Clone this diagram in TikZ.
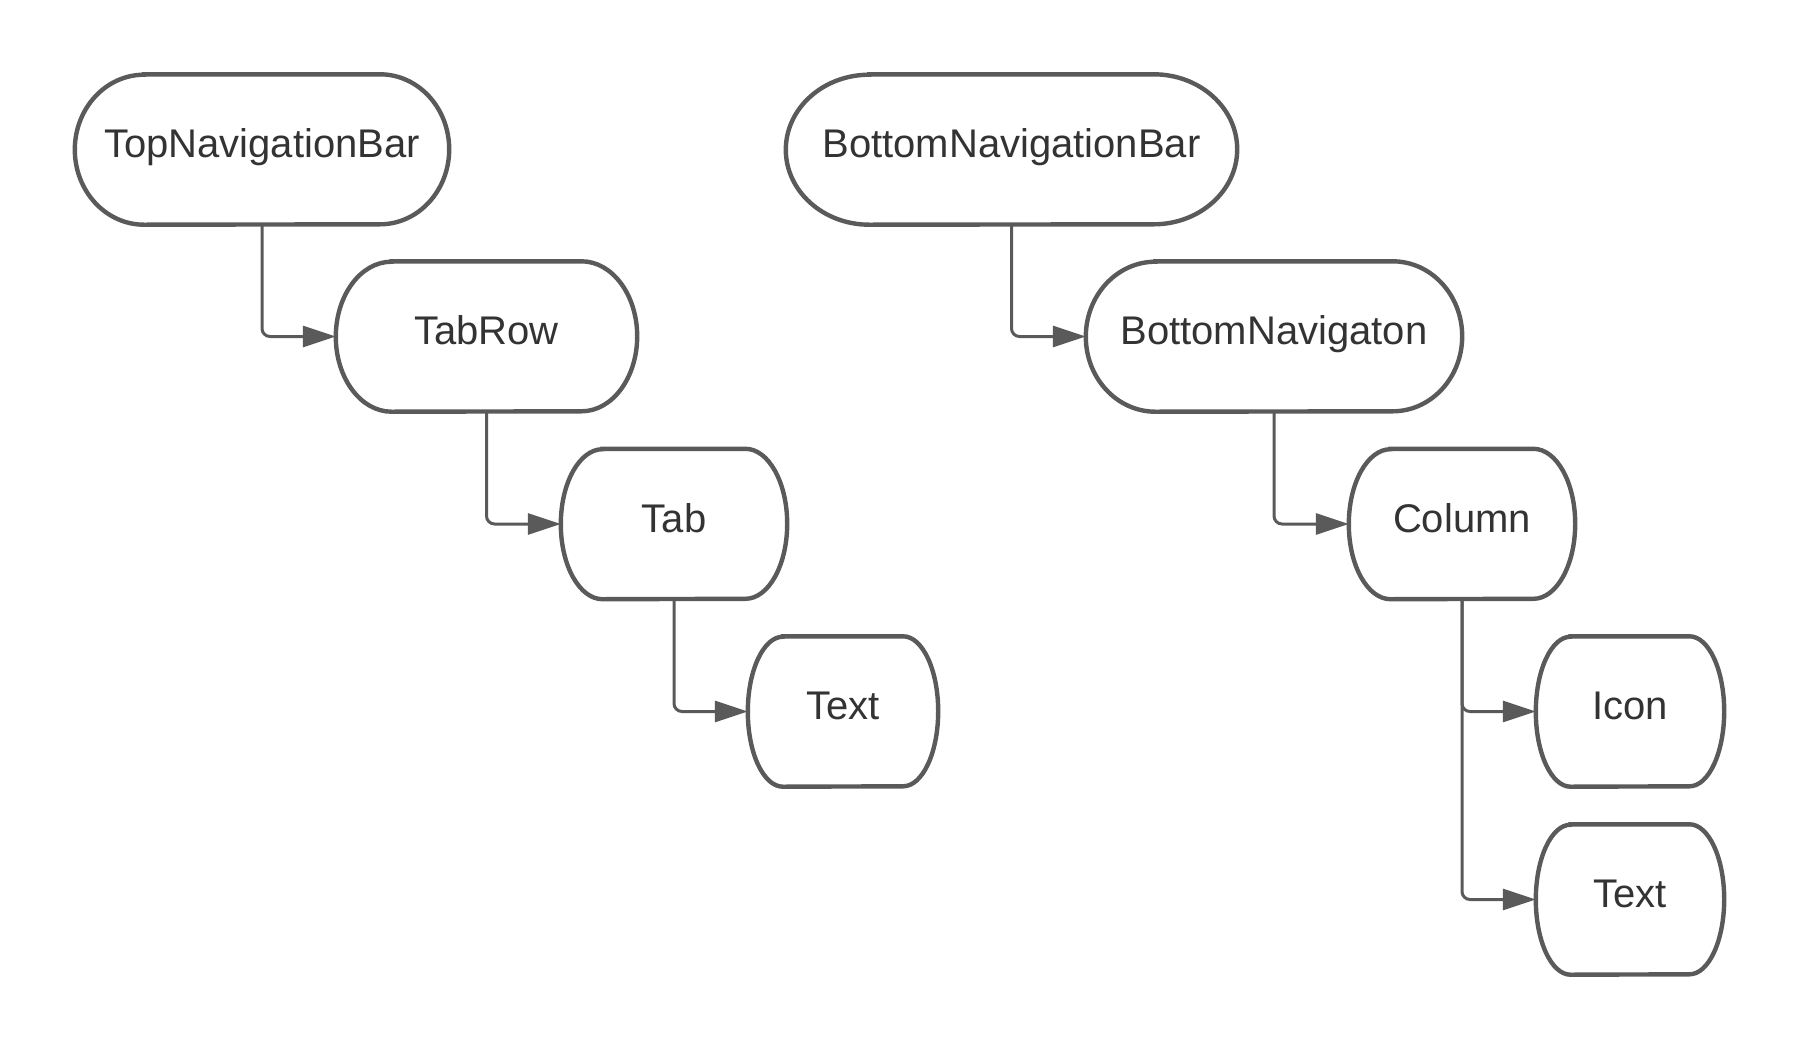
\documentclass[tikz,border=0pt]{standalone}
\usepackage{fontspec}
\setmainfont{Liberation Sans}
\usetikzlibrary{arrows.meta,calc}
\definecolor{edgegray}{HTML}{5A5A5A}
\definecolor{txtgray}{HTML}{333333}
\tikzset{
  boxnode/.style={draw=none, inner sep=0pt, minimum height=150pt},
  boxline/.style={draw=edgegray, line width=4.4pt, fill=white},
  labeltext/.style={anchor=base, inner sep=0pt, text=txtgray, font=\fontsize{40}{48}\selectfont},
  conn/.style={draw=edgegray, line width=3pt, rounded corners=8pt, -{Triangle[length=33pt,width=21pt]}},
}
\newcommand\capsule[5]{%
  \node[boxnode, minimum width=#4pt] (#1) at (#2,#3) {};
  \pgfmathsetmacro\rr{0.185*#4}
  \draw[boxline] ($(#1.north west)+(\rr,0)$) -- ($(#1.north east)+(-\rr,0)$)
    arc[start angle=90,end angle=-90,x radius=\rr pt,y radius=75pt]
    -- ($(#1.south west)+(\rr,0)$)
    arc[start angle=270,end angle=90,x radius=\rr pt,y radius=75pt] -- cycle;
  \node[labeltext] (#1-label) at (#2,#3+8) {#5};
}
\begin{document}
\begin{tikzpicture}[x=1pt,y=-1pt]
\useasboundingbox (0,0) rectangle (1800,1050);
\capsule{topnav}{262}{149.5}{374}{TopNavigationBar}
\capsule{tabrow}{486.5}{336.5}{301}{TabRow}
\capsule{tab}{674}{524}{226}{Tab}
\capsule{text}{843}{711.5}{190}{Text}
\capsule{botnavbar}{1011.5}{149.5}{451}{BottomNavigationBar}
\capsule{botnav}{1274}{336.5}{376}{BottomNavigaton}
\capsule{column}{1462}{524}{226}{Column}
\capsule{icon}{1630}{711.5}{188}{Icon}
\capsule{text2}{1630}{899.5}{188}{Text}
\draw[conn] (topnav.south) |- (tabrow.west);
\draw[conn] (tabrow.south) |- (tab.west);
\draw[conn] (tab.south) |- (text.west);
\draw[conn] (botnavbar.south) |- (botnav.west);
\draw[conn] (botnav.south) |- (column.west);
\draw[conn] (column.south) |- (icon.west);
\draw[conn] (column.south) |- (text2.west);
\end{tikzpicture}
\end{document}
